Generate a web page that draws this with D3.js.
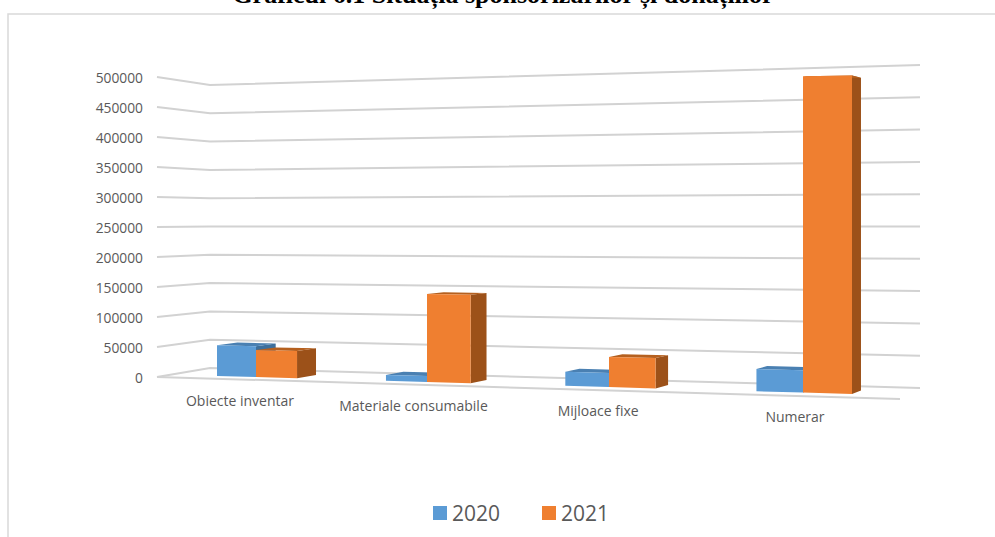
<!DOCTYPE html>
<html>
<head>
<meta charset="utf-8">
<script src="https://cdn.jsdelivr.net/npm/d3@7"></script>
<style>
  html, body { margin: 0; padding: 0; background: #fff; overflow: hidden; }
</style>
</head>
<body>
<div id="chart"></div>
<script>
const categories = ["Obiecte inventar", "Materiale consumabile", "Mijloace fixe", "Numerar"];
const seriesNames = ["2020", "2021"];
const values2020 = [51000, 9500, 22000, 34000];
const values2021 = [44500, 141000, 47000, 480000];
const tickValues = [0, 50000, 100000, 150000, 200000, 250000, 300000, 350000, 400000, 450000, 500000];
const title = "Graficul 6.1 Situația sponsorizărilor și donațiilor";

const width = 995, height = 537;
const maxValue = 500000;

const svg = d3.select("#chart").append("svg")
  .attr("width", width)
  .attr("height", height)
  .style("display", "block");

// chart frame, only top and left show in the reference
svg.append("path")
  .attr("d", d3.line()([[8, height], [8, 14], [width, 14]]))
  .attr("fill", "none")
  .attr("stroke", "#d9d9d9")
  .attr("stroke-width", 1.5);

// the title is cut by the top of the page in the reference too
svg.append("text")
  .attr("x", 503)
  .attr("y", 3)
  .attr("text-anchor", "middle")
  .attr("font-family", "'Liberation Serif'")
  .attr("font-weight", "bold")
  .attr("font-size", "26px")
  .text(title);

// the three edges of the "3D" walls
const yLeft = d3.scaleLinear().domain([0, maxValue]).range([377, 77]);
const yCorner = d3.scaleLinear().domain([0, maxValue]).range([368, 85]);
const yRight = d3.scaleLinear().domain([0, maxValue]).range([388, 65]);
const leftX = 157, cornerX = 210, rightX = 920;

const grid = svg.append("g")
  .attr("fill", "none")
  .attr("stroke", "#d2d2d2")
  .attr("stroke-width", 2);

grid.selectAll("path.wall")
  .data(tickValues)
  .join("path")
  .attr("class", "wall")
  .attr("d", v => d3.line()([[leftX, yLeft(v)], [cornerX, yCorner(v)], [rightX, yRight(v)]]));

// front edge of the floor
grid.append("path")
  .attr("d", d3.line()([[leftX, yLeft(0)], [900, 399]]));

const axis = svg.append("g")
  .attr("transform", "translate(143,1)")
  .call(d3.axisLeft(yLeft).tickValues(tickValues).tickSize(0).tickPadding(0).tickFormat(d3.format("d")));
axis.select(".domain").remove();
axis.selectAll("text")
  .attr("font-family", "'Open Sans'")
  .attr("font-size", "13.8px")
  .attr("fill", "#595959");

// category slots get wider towards the right because of the perspective
const xFront = d3.scaleLinear()
  .domain([0.26, 0.5, 1.5, 2.5, 3.5, 3.74])
  .range([217, 256, 427, 609, 803, 852]);
const baseY = d3.scaleLinear().domain([217, 852]).range([376, 394]);
const fullHeight = d3.scaleLinear().domain([157, 900]).range([299, 334]);
const barHalf = 0.24;

// bars recede towards one vanishing point
const vanish = [1351, 200], depth = 0.018;

function front(u, v) {
  const x = xFront(u);
  return [x, baseY(x) - fullHeight(x) * v / maxValue];
}
function back(p) {
  return [p[0] + depth * (vanish[0] - p[0]), p[1] + depth * (vanish[1] - p[1])];
}
const poly = d3.line().curve(d3.curveLinearClosed);

const barColors = [
  { front: "#5b9bd5", side: "#3d6f9c", top: "#4a80b2" },
  { front: "#ef7f30", side: "#9c5119", top: "#b5601f" }
];

function drawBar(g, u0, u1, v, c) {
  const a = front(u0, 0), b = front(u1, 0), d = front(u0, v), e = front(u1, v);
  g.append("path").attr("fill", c.side).attr("d", poly([b, back(b), back(e), e]));
  g.append("path").attr("fill", c.top).attr("d", poly([d, e, back(e), back(d)]));
  g.append("path").attr("fill", c.front).attr("d", poly([a, b, e, d]));
}

const bars = svg.append("g");
categories.forEach((cat, i) => {
  const mid = i + 0.5;
  drawBar(bars, mid - barHalf, mid, values2020[i], barColors[0]);
  drawBar(bars, mid, mid + barHalf, values2021[i], barColors[1]);
});

// category labels follow the floor
svg.append("g").selectAll("text")
  .data(categories)
  .join("text")
  .attr("x", (d, i) => {
    const x = xFront(i + 0.5);
    return x - 0.0146 * (vanish[0] - x);
  })
  .attr("y", (d, i) => {
    const x = xFront(i + 0.5);
    return baseY(x - 0.0146 * (vanish[0] - x)) + 29.5;
  })
  .attr("text-anchor", "middle")
  .attr("font-family", "'Open Sans'")
  .attr("font-size", "14px")
  .attr("fill", "#595959")
  .text(d => d);

// legend
const legendX = d3.scaleOrdinal().domain(seriesNames).range([433, 542]);
const legend = svg.append("g").selectAll("g")
  .data(seriesNames)
  .join("g")
  .attr("transform", d => `translate(${legendX(d)},506)`);
legend.append("rect")
  .attr("width", 14)
  .attr("height", 14)
  .attr("fill", (d, i) => barColors[i].front);
legend.append("text")
  .attr("x", 19)
  .attr("y", 14.5)
  .attr("font-family", "'Open Sans'")
  .attr("font-size", "21px")
  .attr("fill", "#595959")
  .text(d => d);
</script>
</body>
</html>
